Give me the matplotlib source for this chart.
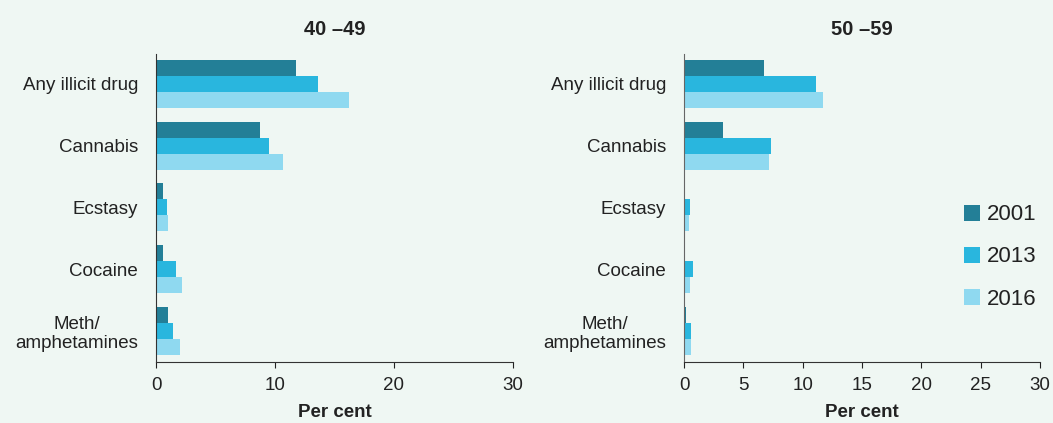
import matplotlib
matplotlib.use("Agg")
import matplotlib.pyplot as plt
import numpy as np

categories = ["Any illicit drug", "Cannabis", "Ecstasy", "Cocaine", "Meth/\namphetamines"]
years = ["2001", "2013", "2016"]
age_40_49 = {
    "2001": [11.8, 8.7, 0.6, 0.6, 1.0],
    "2013": [13.6, 9.5, 0.9, 1.7, 1.4],
    "2016": [16.2, 10.7, 1.0, 2.2, 2.0],
}
age_50_59 = {
    "2001": [6.7, 3.3, 0.0, 0.0, 0.2],
    "2013": [11.1, 7.3, 0.5, 0.8, 0.6],
    "2016": [11.7, 7.2, 0.4, 0.5, 0.6],
}
colors = {"2001": "#237F97", "2013": "#29B6DE", "2016": "#8FD9F0"}
bg = "#EFF7F3"

plt.rcParams['font.family'] = ['Liberation Sans', 'DejaVu Sans']

fig = plt.figure(figsize=(10.53, 4.23), dpi=100, facecolor=bg)
ax1 = fig.add_axes([156/1053, 61/423, 357/1053, 308/423])
ax2 = fig.add_axes([684/1053, 61/423, 356/1053, 308/423])

fs = 13.5
bar_h = 0.26
y = np.arange(len(categories))
for ax, data, title, ticks, lc in [(ax1, age_40_49, "40 \u201349", [0, 10, 20, 30], '#333333'),
                                   (ax2, age_50_59, "50 \u201359", [0, 5, 10, 15, 20, 25, 30], '#666666')]:
    ax.set_facecolor(bg)
    for i, yr in enumerate(years):
        ax.barh(y + (i - 1) * bar_h, data[yr], height=bar_h, color=colors[yr], label=yr)
    ax.set_ylim(4.505, -0.486)
    ax.set_xlim(0, 30)
    ax.set_xticks(ticks)
    ax.set_yticks(y)
    ax.set_yticklabels(categories, multialignment='center')
    ax.tick_params(axis='y', length=0, labelsize=fs, colors='#222222', pad=13)
    ax.tick_params(axis='x', length=4, labelsize=fs, colors='#222222', pad=6.5)
    for s in ['top', 'right']:
        ax.spines[s].set_visible(False)
    ax.spines['left'].set_color(lc)
    ax.spines['bottom'].set_color('#333333')
    ax.set_xlabel("Per cent", fontsize=fs, fontweight='bold', labelpad=7.5, color='#222222')
    ax.set_title(title, fontsize=14.5, fontweight='bold', pad=14, color='#222222')

fig.legend(handles=ax2.containers, labels=years, loc='center left',
           bbox_to_anchor=(964/1053, 1 - 257/423), bbox_transform=fig.transFigure,
           frameon=False, fontsize=16, handlelength=0.72, handleheight=0.72,
           labelspacing=0.95, handletextpad=0.3, borderpad=0, borderaxespad=0,
           labelcolor='#222222')

fig.savefig("out.png", dpi=100, facecolor=bg)
